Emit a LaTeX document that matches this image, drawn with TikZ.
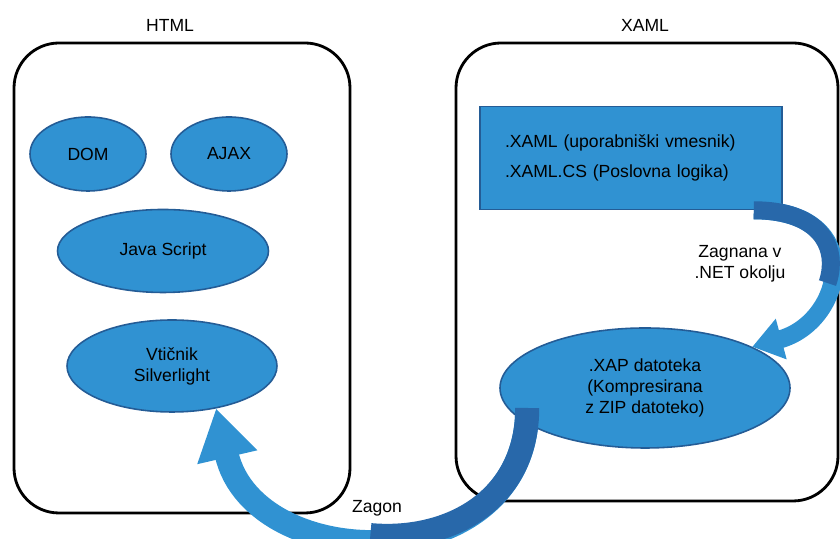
\documentclass[tikz,border=0pt]{standalone}
\usepackage{fontspec}
\setmainfont{Liberation Sans}
\usepackage{tikz}
\usetikzlibrary{shapes,arrows.meta}
\definecolor{fillblue}{RGB}{48,146,210}
\definecolor{edgeblue}{RGB}{36,92,150}
\definecolor{backblue}{RGB}{40,104,170}
\tikzset{frame/.style={draw,line width=1.6pt,rounded corners=0.9cm,inner sep=0pt}}
\tikzset{blob/.style={ellipse,draw=edgeblue,fill=fillblue,line width=0.9pt,inner sep=0pt}}
\tikzset{codebox/.style={rectangle,draw=edgeblue,fill=fillblue,line width=0.9pt,minimum width=6.04cm,minimum height=2.06cm,text width=5.04cm,inner xsep=0.5cm,align=left}}
\tikzset{swoop/.style 2 args={draw=fillblue,line width=#1,postaction={draw=backblue,-,dash pattern=on #2 off 40cm}}}

\begin{document}
\begin{tikzpicture}[>=stealth,font=\fontsize{10}{12}\selectfont]
    \useasboundingbox (0,0) rectangle (16.8,10.78);

    \node[frame,minimum width=6.72cm,minimum height=9.4cm] (html) at (3.64,5.22) {};
    \node[frame,minimum width=7.64cm,minimum height=9.16cm] (xaml) at (12.94,5.34) {};
    \node (htmlt) at (3.4,10.28) {HTML};
    \node (xamlt) at (12.9,10.28) {XAML};

    \node[blob,minimum width=2.32cm,minimum height=1.48cm] (dom) at (1.76,7.7) {DOM};
    \node[blob,minimum width=2.32cm,minimum height=1.48cm] (ajax) at (4.58,7.7) {AJAX};
    \node[blob,minimum width=4.22cm,minimum height=1.66cm] (js) at (3.26,5.76) {Java Script};
    \node[blob,minimum width=4.2cm,minimum height=1.84cm,align=center] (plug) at (3.44,3.46) {Vtičnik\\Silverlight};

    \node[codebox] (code) at (12.62,7.62) {.XAML (uporabniški vmesnik)\\[5pt].XAML.CS (Poslovna logika)};
    \node[blob,minimum width=5.8cm,minimum height=2.4cm,align=center] (xap) at (12.9,3.02) {.XAP datoteka\\(Kompresirana\\z ZIP datoteko)};

    \draw [swoop={0.36cm}{2.5cm},-{Triangle[width=0.8cm,length=0.6cm]}] ([xshift=-0.58cm]code.south east) to [out=0,in=15,out distance=2.3cm,in distance=1.9cm] (xap.21);
    \draw [swoop={0.48cm}{4.6cm},-{Triangle[width=1.16cm,length=1cm]}] ([shift={(0.56,-0.4)}]xap.west) to [out=-90,in=-77,looseness=1.42] (plug.-44);

    \node[align=center] (boot) at (14.8,5.5) {Zagnana v\\.NET okolju};
    \node (run) at (7.54,0.62) {Zagon};
\end{tikzpicture}
\end{document}
